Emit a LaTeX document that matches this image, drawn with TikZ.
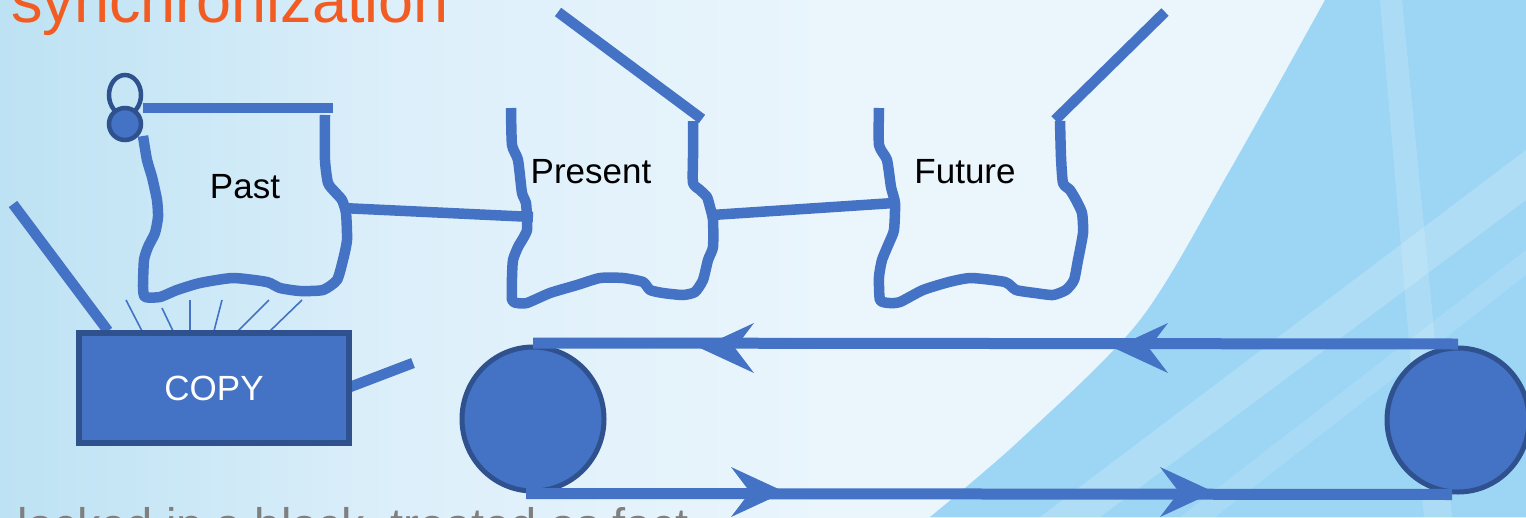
\documentclass[tikz,border=0pt]{standalone}
\usepackage{fontspec}
\setmainfont{Liberation Sans}
\usetikzlibrary{shapes.geometric}

\definecolor{shapeblue}{HTML}{4472C4}
\definecolor{rimblue}{HTML}{2F528F}
\definecolor{titleorange}{HTML}{F25C22}
\definecolor{notegray}{HTML}{7F7F7F}
\definecolor{bgA}{HTML}{BDE2F3}
\definecolor{bgB}{HTML}{DCEFFA}
\definecolor{bgC}{HTML}{EAF5FC}
\definecolor{wedgeblue}{HTML}{9DD6F4}

% slide backdrop: cyan on the left fading to pale blue
\pgfdeclarehorizontalshading{slideshade}{100bp}{color(0bp)=(bgA); color(25bp)=(bgA); color(38bp)=(bgB); color(52bp)=(bgC); color(100bp)=(bgC)}

\tikzset{
  outline/.style={draw=shapeblue, line width=10.5pt, line join=round},
  hairline/.style={draw=shapeblue, line width=1.6pt},
  wordtag/.style={font=\fontsize{35}{40}\selectfont, text=black, inner sep=0pt, anchor=base},
  roller/.style={ellipse, draw=rimblue, fill=shapeblue, line width=5pt, inner sep=0pt,
                 minimum width=142pt, minimum height=144pt},
  belt/.style={draw=shapeblue, line width=11pt},
  copybox/.style={rectangle, draw=rimblue, fill=shapeblue, line width=6pt, inner sep=0pt,
                  minimum width=270pt, minimum height=110pt, text=white,
                  font=\fontsize{35}{40}\selectfont},
  beltarrow/.pic={\fill[shapeblue] (0,0) -- (-54,-25) -- (-35,0) -- (-54,25) -- cycle;}
}

\begin{document}
\begin{tikzpicture}[x=1pt,y=-1pt]
\useasboundingbox (0,0) rectangle (1526,517);
\clip (0,0) rectangle (1526,517);

% backdrop
\fill[shading=slideshade] (0,0) rectangle (1526,517);
\fill[wedgeblue] plot[smooth] coordinates {(1325,0) (1230,170) (1140,320) (1020,440) (930,517)}
  -- (1526,517) -- (1526,0) -- cycle;
\fill[white, opacity=0.16] (1380,0) -- (1402,0) -- (1452,517) -- (1424,517) -- cycle;
\fill[white, opacity=0.18] (1040,517) -- (1526,150) -- (1526,200) -- (1100,517) -- cycle;
\fill[white, opacity=0.12] (1180,517) -- (1526,250) -- (1526,275) -- (1215,517) -- cycle;

% title and note, both running off the frame
\node[anchor=base west, inner sep=0pt, text=titleorange, font=\fontsize{63}{70}\selectfont]
  (title) at (11,22) {synchronization};
\node[anchor=base west, inner sep=0pt, text=notegray, font=\fontsize{47}{52}\selectfont]
  (note) at (17,541) {locked in a block, treated as fact};

% Past: clipped sheet with its ring
\draw[rimblue, line width=4.5pt] (125,95) ellipse [x radius=16, y radius=20];
\draw[outline] (143,108) -- (333,108);
\draw[outline] plot[smooth, tension=0.35] coordinates {(143,136) (147,160) (152,177) (157,200)
  (158,217) (155,233) (148,247) (144,260) (143,287) (145,297) (160,297) (177,290) (200,283)
  (233,278) (267,282) (280,288) (300,291) (323,290) (337,280) (343,260) (347,240) (346,213)
  (342,200) (335,192) (328,183) (325,160) (325,115)};
\node[circle, draw=rimblue, fill=shapeblue, line width=4.5pt, inner sep=0pt, minimum size=32pt]
  (pin) at (125,124) {};

% Present
\draw[outline] plot[smooth, tension=0.35] coordinates {(511,108) (512,145) (518,160) (522,193)
  (526,203) (527,230) (518,247) (513,260) (512,277) (512,300) (517,303) (527,303) (550,293)
  (577,285) (600,278) (623,278) (643,282) (650,290) (663,293) (683,295) (695,292) (703,280)
  (708,260) (713,247) (713,220) (710,207) (707,197) (700,190) (693,183) (693,157) (693,121)};
\draw[outline] (558,12) -- (702,119);

% Future
\draw[outline] plot[smooth, tension=0.35] coordinates {(879,108) (879,145) (887,160) (891,187)
  (895,203) (894,230) (889,243) (882,260) (879,277) (880,300) (889,303) (900,302) (923,290)
  (949,282) (971,278) (1005,282) (1016,290) (1035,293) (1053,295) (1066,290) (1074,280)
  (1078,260) (1083,233) (1082,213) (1076,200) (1070,190) (1063,183) (1061,157) (1060,121)};
\draw[outline] (1165,12) -- (1055,120);

% labels
\node[wordtag] (pastlbl) at (245,198) {Past};
\node[wordtag] (presentlbl) at (591,183) {Present};
\node[wordtag] (futurelbl) at (965,183) {Future};

% links between the sheets
\coordinate (pastOut) at (342,208);
\coordinate (presentIn) at (533,217);
\coordinate (presentOut) at (712,215);
\coordinate (futureIn) at (894,203);
\draw[outline] (pastOut) -- (presentIn);
\draw[outline] (presentOut) -- (futureIn);

% copier with its levers and rays
\coordinate (leverTop) at (13,204);
\coordinate (leverEnd) at (413,363);
\draw[outline] (leverTop) -- (108,331);
\draw[outline] (350,387) -- (leverEnd);
\foreach \a/\b/\c in {126/300/142, 162/308/173, 190/300/190, 222/300/214, 269/300/238, 302/300/270}
  \draw[hairline] (\a,\b) -- (\c,331);
\node[copybox] (copy) at (214,388) {COPY};

% conveyor belt
\node[roller] (rollL) at (533,419) {};
\node[roller] (rollR) at (1458,420) {};
\draw[belt] ([yshift=1.5pt]rollR.north) -- ([yshift=1.5pt]rollL.north);
\draw[belt] ([xshift=-6pt]rollR.south) -- ([xshift=-7pt]rollL.south);
\pic[rotate=180] at (700,348) {beltarrow};
\pic[rotate=180] at (1114,348) {beltarrow};
\pic at (785,492) {beltarrow};
\pic at (1214,492) {beltarrow};
\end{tikzpicture}
\end{document}
